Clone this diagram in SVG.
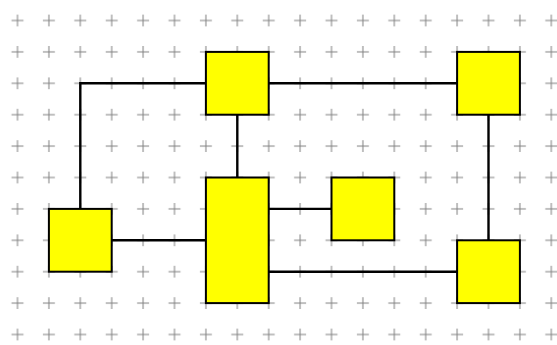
<svg xmlns="http://www.w3.org/2000/svg" width="557" height="345" viewBox="0 0 557 345">
<style>
.node rect{fill:#ffff00;stroke:#000;stroke-width:2}
.conn path{fill:none;stroke:#000;stroke-width:2.4}
.plus{stroke:#808080;stroke-width:1;fill:none}
</style>
<defs>
<pattern id="grid" patternUnits="userSpaceOnUse" x="1.8" y="4.8" width="31.4" height="31.4">
<path class="plus" d="M9.7 15.7H21.7M15.7 9.7V21.7"/>
</pattern>
</defs>
<rect width="557" height="345" fill="#fff"/>
<rect width="557" height="345" fill="url(#grid)"/>
<g id="connectors" class="conn">
<path d="M80.3 208.9V83.3H205.9"/>
<path d="M268.7 83.3H457.1"/>
<path d="M237.3 114.7V177.5"/>
<path d="M488.5 114.7V240.3"/>
<path d="M111.7 240.3H205.9"/>
<path d="M268.7 208.9H331.5"/>
<path d="M268.7 271.7H457.1"/>
</g>
<g id="nodeA" class="node"><rect x="205.9" y="51.9" width="62.8" height="62.8"/></g>
<g id="nodeB" class="node"><rect x="457.1" y="51.9" width="62.8" height="62.8"/></g>
<g id="nodeC" class="node"><rect x="48.9" y="208.9" width="62.8" height="62.8"/></g>
<g id="nodeD" class="node"><rect x="205.9" y="177.5" width="62.8" height="125.6"/></g>
<g id="nodeE" class="node"><rect x="331.5" y="177.5" width="62.8" height="62.8"/></g>
<g id="nodeF" class="node"><rect x="457.1" y="240.3" width="62.8" height="62.8"/></g>
</svg>
